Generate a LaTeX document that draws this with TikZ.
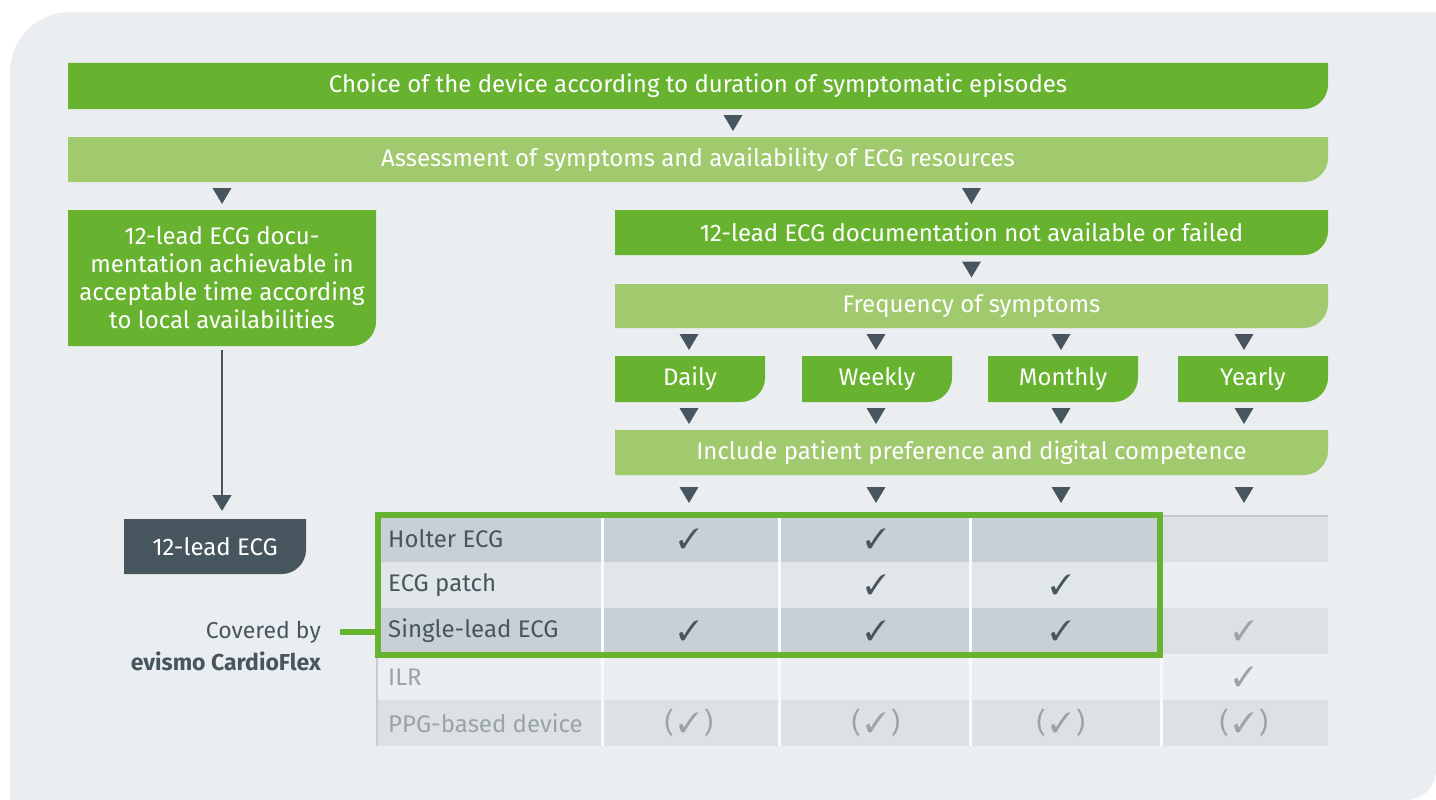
\documentclass[tikz,border=0pt]{standalone}
\usepackage{pifont}
\usepackage{fontspec}
\setmainfont{Fira Sans}
\usetikzlibrary{decorations.markings,arrows.meta}

\definecolor{bggrey}{HTML}{EAEEF1}
\definecolor{dgreen}{HTML}{67B32F}
\definecolor{lgreen}{HTML}{A1C96E}
\definecolor{slate}{HTML}{47555E}
\definecolor{rowdark}{HTML}{C8D0D7}
\definecolor{rowmid}{HTML}{E1E6E9}
\definecolor{rowout}{HTML}{DCE1E5}
\definecolor{rowlight}{HTML}{EBEFF2}
\definecolor{rule}{HTML}{C4CBD1}
\definecolor{greytext}{HTML}{9AA3A8}

\pgfdeclarelayer{bg}
\pgfsetlayers{bg,main}

% fill behind a node, only the lower right corner rounded
\newcommand{\plate}[2]{%
  \begin{pgfonlayer}{bg}
  \fill[#1] (#2.north west) -- (#2.north east) -- ([yshift=24pt]#2.south east)
    .. controls +(0pt,-13pt) and +(13pt,0pt) .. ([xshift=-24pt]#2.south east)
    -- (#2.south west) -- cycle;
  \end{pgfonlayer}}

\begin{document}
\begin{tikzpicture}[x=1pt,y=-1pt,
  box/.style={anchor=north west, inner sep=0pt, outer sep=0pt, text=white,
    font=\fontsize{24}{28}\selectfont, align=center},
  down/.style={decoration={markings, mark=at position 0.5 with
    {\fill[slate] (8pt,0pt) -- (-8pt,9.5pt) -- (-8pt,-9.5pt) -- cycle;}},
    postaction=decorate},
  device/.style={anchor=west, inner sep=0pt, font=\fontsize{24}{28}\selectfont},
  tick/.style={inner sep=0pt, font=\fontsize{28}{32}\selectfont},
  side/.style={anchor=east, inner sep=0pt, text=slate, font=\fontsize{23}{27}\selectfont}]
\useasboundingbox (0,0) rectangle (1436,800);
\begin{pgfonlayer}{bg}
\fill[white] (0,0) rectangle (1436,800);
\fill[bggrey] (10,800) -- (10,72) .. controls (10,39) and (37,12) .. (70,12)
  -- (1436,12) -- (1436,770) .. controls (1436,786.5) and (1422.5,800) .. (1406,800) -- cycle;
\end{pgfonlayer}

% flow boxes
\node[box, minimum width=1260pt, minimum height=46pt] (choice) at (68,63)
  {Choice of the device according to duration of symptomatic episodes};
\plate{dgreen}{choice}
\node[box, minimum width=1260pt, minimum height=45pt] (assess) at (68,137)
  {Assessment of symptoms and availability of ECG resources};
\plate{lgreen}{assess}
\node[box, minimum width=308pt, minimum height=136pt] (achieve) at (68,210)
  {12-lead ECG docu-\\mentation achievable in\\acceptable time according\\to local availabilities};
\plate{dgreen}{achieve}
\node[box, minimum width=713pt, minimum height=45pt] (notavail) at (615,210)
  {12-lead ECG documentation not available or failed};
\plate{dgreen}{notavail}
\node[box, minimum width=713pt, minimum height=44pt] (freq) at (615,284)
  {Frequency of symptoms};
\plate{lgreen}{freq}
\foreach \b/\t/\x in {daily/Daily/615, weekly/Weekly/802, monthly/Monthly/988, yearly/Yearly/1178} {
  \node[box, minimum width=150pt, minimum height=46pt] (\b) at (\x,356) {\t};
  \plate{dgreen}{\b}
}
\node[box, minimum width=713pt, minimum height=45pt] (include) at (615,430)
  {Include patient preference and digital competence};
\plate{lgreen}{include}
\node[box, minimum width=182pt, minimum height=55pt] (ecg12) at (124,519) {12-lead ECG};
\plate{slate}{ecg12}

% table
\foreach \y/\ci/\co in {516/rowdark/rowout, 562/rowmid/rowlight, 608/rowdark/rowout,
    654/rowlight/rowlight, 700/rowout/rowout} {
  \fill[\ci] (377,\y) rectangle (1161,\y+46);
  \fill[\co] (1161,\y) rectangle (1328,\y+46);
}
\foreach \x in {602,779,970,1161}
  \draw[white!70!bggrey, line width=3pt] (\x,516) -- (\x,746);
\draw[rule, line width=2pt] (377,746) -- (377,516) -- (1328,516);
\node[draw=dgreen, line width=6pt, outer sep=0pt, inner sep=0pt, minimum width=782pt,
  minimum height=139.5pt, anchor=north west] (frame) at (378,515) {};

\foreach \t/\c [count=\r] in {Holter ECG/slate, ECG patch/slate, Single-lead ECG/slate,
    ILR/greytext, PPG-based device/greytext}
  \node[device, text=\c] (dev\r) at (388,493+46*\r) {\t};

\coordinate (axC) at (733,0);
\coordinate (axD) at (689,0);
\coordinate (axW) at (876,0);
\coordinate (axM) at (1061,0);
\coordinate (axY) at (1244,0);

\foreach \r/\a/\c in {1/axD/slate, 1/axW/slate, 2/axW/slate, 2/axM/slate, 3/axD/slate,
    3/axW/slate, 3/axM/slate, 3/axY/greytext, 4/axY/greytext}
  \node[tick, text=\c] (tick\r\a) at (\a |- dev\r) {\ding{51}};
\foreach \a in {axD,axW,axM,axY}
  \node[tick, text=greytext] (tick5\a) at (\a |- dev5) {(\,\ding{51}\,)};

% arrows
\path[down] (axC |- choice.south) -- (axC |- assess.north);
\path[down] (achieve.north |- assess.south) -- (achieve.north);
\path[down] (notavail.north |- assess.south) -- (notavail.north);
\path[down] (notavail.south) -- (freq.north);
\foreach \b/\a in {daily/axD, weekly/axW, monthly/axM, yearly/axY} {
  \path[down] (\a |- freq.south) -- (\a |- \b.north);
  \path[down] (\a |- \b.south) -- (\a |- include.north);
  \path[down] (\a |- include.south) -- (\a |- frame.north);
}
\draw[slate, line width=1.5pt, -{Triangle[width=19pt,length=16pt]}, shorten <=4pt, shorten >=8pt]
  (achieve.south) -- (achieve.south |- ecg12.north);

% covered by
\node[side] (covered) at (321,632) {Covered by};
\node[side, font=\fontsize{23}{27}\selectfont\bfseries] (evismo) at (321,661) {evismo CardioFlex};
\draw[dgreen, line width=6pt] ([xshift=19pt]covered.east) -- (covered.east -| frame.west);
\end{tikzpicture}
\end{document}
